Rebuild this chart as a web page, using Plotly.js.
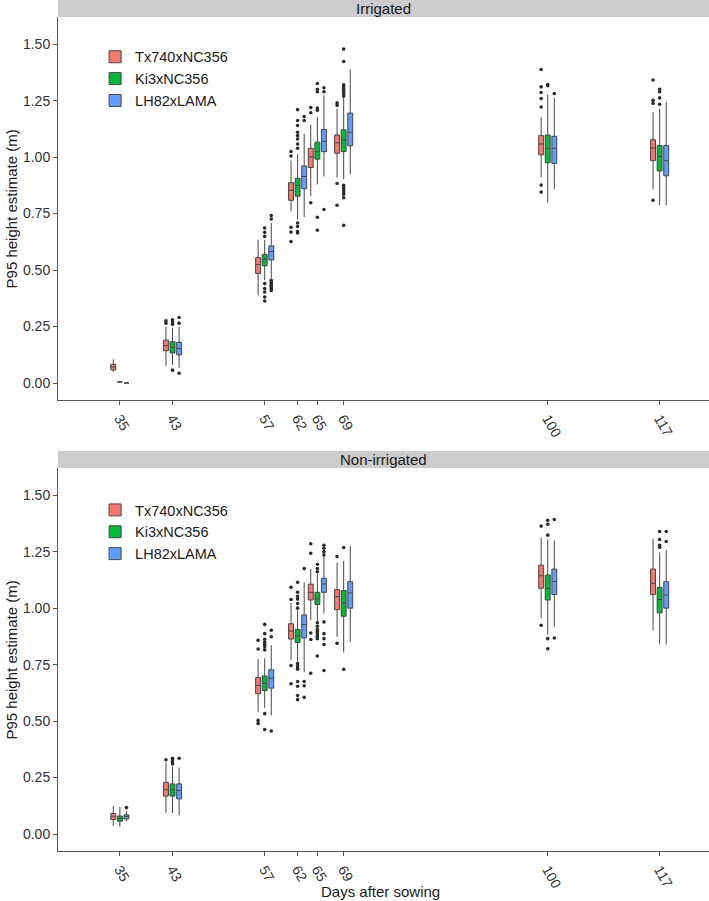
<!DOCTYPE html>
<html>
<head>
<meta charset="utf-8">
<script src="https://cdn.plot.ly/plotly-3.0.1.min.js"></script>
<style>html,body{margin:0;padding:0;background:#fff;}#chart{width:709px;height:901px;}</style>
</head>
<body>
<div id="chart"></div>
<script>
// ---------- DATA ----------
const days = [35, 43, 57, 62, 65, 69, 100, 117];
const dayLabels = ['35', '43', '57', '62', '65', '69', '100', '117'];
const genotypes = ['Tx740xNC356', 'Ki3xNC356', 'LH82xLAMA'];
const panels = ['Irrigated', 'Non-irrigated'];
const yTicks = [0, 0.25, 0.5, 0.75, 1.0, 1.25, 1.5];

// Irrigated - Tx740xNC356
const irrTxQ1  = [0.058, 0.143, 0.485, 0.809, 0.954, 1.017, 1.010, 0.984];
const irrTxMed = [0.071, 0.165, 0.524, 0.853, 1.001, 1.063, 1.058, 1.040];
const irrTxQ3  = [0.083, 0.190, 0.555, 0.887, 1.039, 1.098, 1.095, 1.077];
const irrTxLo  = [0.049, 0.076, 0.388, 0.760, 0.827, 0.909, 0.909, 0.857];
const irrTxHi  = [0.105, 0.250, 0.634, 0.985, 1.143, 1.214, 1.177, 1.199];
const irrTxOut = [[], [0.265, 0.275], [], [1.005, 1.025, 0.689, 0.668, 0.626], [1.196, 1.219, 0.798],
                  [1.229, 1.240, 0.883, 0.787], [1.222, 1.259, 1.286, 1.311, 1.388, 0.876, 0.845], [1.237, 1.251, 1.341, 0.809]];

// Irrigated - Ki3xNC356
const irrKiQ1  = [0.005, 0.133, 0.519, 0.827, 0.991, 1.024, 0.975, 0.939];
const irrKiMed = [0.005, 0.158, 0.548, 0.875, 1.024, 1.076, 1.039, 1.003];
const irrKiQ3  = [0.005, 0.183, 0.570, 0.906, 1.066, 1.121, 1.098, 1.051];
const irrKiLo  = [0.005, 0.080, 0.455, 0.723, 0.879, 0.902, 0.798, 0.787];
const irrKiHi  = [0.005, 0.245, 0.634, 1.013, 1.177, 1.266, 1.277, 1.214];
const irrKiOut = [[], [0.260, 0.270, 0.280, 0.057], [0.649, 0.667, 0.686, 0.440, 0.418, 0.403, 0.381, 0.363],
                  [1.039, 1.058, 1.080, 1.095, 1.110, 1.140, 1.162, 1.210, 0.708, 0.693, 0.671, 0.664],
                  [1.207, 1.217, 1.289, 1.300, 1.326, 0.734, 0.676],
                  [1.478, 1.423, 1.320, 1.310, 1.300, 1.290, 1.280, 1.270, 0.875, 0.865, 0.855, 0.845, 0.835, 0.820, 0.698],
                  [1.316, 1.321], [1.234, 1.262, 1.289, 1.300]];

// Irrigated - LH82xLAMA
const irrLhQ1  = [0.000, 0.125, 0.545, 0.860, 1.024, 1.050, 0.972, 0.917];
const irrLhMed = [0.000, 0.152, 0.582, 0.914, 1.070, 1.110, 1.039, 0.984];
const irrLhQ3  = [0.000, 0.180, 0.607, 0.961, 1.122, 1.195, 1.092, 1.051];
const irrLhLo  = [0.000, 0.068, 0.463, 0.734, 0.914, 0.924, 0.860, 0.787];
const irrLhHi  = [0.000, 0.250, 0.708, 1.103, 1.274, 1.388, 1.262, 1.244];
const irrLhOut = [[], [0.265, 0.290, 0.043], [0.726, 0.741, 0.455, 0.448, 0.440, 0.432, 0.425, 0.418, 0.410],
                  [1.162, 1.180], [1.289, 1.307, 0.768], [], [1.281], []];

// Non-irrigated - Tx740xNC356
const nonTxQ1  = [0.064, 0.168, 0.621, 0.863, 1.036, 0.993, 1.088, 1.060];
const nonTxMed = [0.079, 0.196, 0.658, 0.898, 1.070, 1.051, 1.143, 1.110];
const nonTxQ3  = [0.091, 0.229, 0.693, 0.931, 1.106, 1.082, 1.190, 1.173];
const nonTxLo  = [0.036, 0.093, 0.541, 0.770, 0.946, 0.873, 0.956, 0.901];
const nonTxHi  = [0.124, 0.317, 0.775, 1.023, 1.173, 1.202, 1.311, 1.307];
const nonTxOut = [[], [0.329], [0.819, 0.858, 0.503, 0.489], [1.038, 1.092, 0.746, 0.665],
                  [1.243, 1.285, 0.890, 0.861, 0.712], [1.228, 0.844], [1.363, 0.924], []];

// Non-irrigated - Ki3xNC356
const nonKiQ1  = [0.057, 0.168, 0.635, 0.848, 1.016, 0.964, 1.036, 0.979];
const nonKiMed = [0.069, 0.196, 0.668, 0.877, 1.041, 1.023, 1.088, 1.038];
const nonKiQ3  = [0.080, 0.222, 0.700, 0.906, 1.070, 1.078, 1.147, 1.092];
const nonKiLo  = [0.032, 0.093, 0.558, 0.763, 0.939, 0.803, 0.883, 0.839];
const nonKiHi  = [0.120, 0.298, 0.778, 0.990, 1.150, 1.209, 1.304, 1.246];
const nonKiOut = [[], [0.310, 0.320, 0.328, 0.335], [0.815, 0.830, 0.840, 0.850, 0.862, 0.887, 0.928, 0.533, 0.463],
                  [1.000, 1.020, 1.040, 1.052, 1.070, 1.114, 0.755, 0.745, 0.735, 0.730, 0.675, 0.654, 0.613, 0.595],
                  [1.161, 1.175, 1.194, 0.935, 0.920, 0.905, 0.895, 0.885, 0.875, 0.865, 0.788],
                  [1.268, 0.729], [1.323, 1.371, 1.389, 0.865, 0.820], [1.269, 1.278, 1.304, 1.339]];

// Non-irrigated - LH82xLAMA
const nonLhQ1  = [0.067, 0.156, 0.646, 0.868, 1.070, 1.000, 1.060, 1.000];
const nonLhMed = [0.078, 0.193, 0.690, 0.927, 1.107, 1.067, 1.118, 1.058];
const nonLhQ3  = [0.085, 0.222, 0.727, 0.970, 1.132, 1.117, 1.173, 1.117];
const nonLhLo  = [0.057, 0.083, 0.525, 0.716, 0.975, 0.851, 0.917, 0.839];
const nonLhHi  = [0.101, 0.295, 0.836, 1.114, 1.260, 1.275, 1.300, 1.257];
const nonLhOut = [[0.117], [0.335], [0.873, 0.902, 0.456], [1.175, 0.675, 0.656, 0.605],
                  [1.235, 1.250, 1.265, 1.278, 0.939, 0.887, 0.865, 0.839, 0.724], [], [1.392, 0.868], [1.295, 1.339]];

// ---------- BUILD ----------
const fills = ['#F8766D', '#00BA38', '#619CFF'];
const series = [
  [ // Irrigated
    {q1: irrTxQ1, med: irrTxMed, q3: irrTxQ3, lo: irrTxLo, hi: irrTxHi, out: irrTxOut},
    {q1: irrKiQ1, med: irrKiMed, q3: irrKiQ3, lo: irrKiLo, hi: irrKiHi, out: irrKiOut},
    {q1: irrLhQ1, med: irrLhMed, q3: irrLhQ3, lo: irrLhLo, hi: irrLhHi, out: irrLhOut}
  ],
  [ // Non-irrigated
    {q1: nonTxQ1, med: nonTxMed, q3: nonTxQ3, lo: nonTxLo, hi: nonTxHi, out: nonTxOut},
    {q1: nonKiQ1, med: nonKiMed, q3: nonKiQ3, lo: nonKiLo, hi: nonKiHi, out: nonKiOut},
    {q1: nonLhQ1, med: nonLhMed, q3: nonLhQ3, lo: nonLhLo, hi: nonLhHi, out: nonLhOut}
  ]
];

const traces = [];
series.forEach((panel, p) => {
  const xa = p === 0 ? 'x' : 'x2';
  const ya = p === 0 ? 'y' : 'y2';
  panel.forEach((s, g) => {
    traces.push({
      type: 'box', name: genotypes[g], x: days,
      q1: s.q1, median: s.med, q3: s.q3, lowerfence: s.lo, upperfence: s.hi,
      xaxis: xa, yaxis: ya, legend: p === 0 ? 'legend' : 'legend2',
      offsetgroup: 'g' + g, alignmentgroup: 'box' + p,
      fillcolor: fills[g], line: {color: '#474747', width: 1}, whiskerwidth: 0,
      boxpoints: false, showlegend: true, hoverinfo: 'skip'
    });
  });
  panel.forEach((s, g) => {
    const ox = [], oy = [];
    s.out.forEach((vals, i) => vals.forEach(v => { ox.push(days[i]); oy.push(v); }));
    traces.push({
      type: 'scatter', mode: 'markers', x: ox, y: oy, xaxis: xa, yaxis: ya,
      offsetgroup: 'g' + g, alignmentgroup: 'out' + p,
      marker: {size: 3.6, color: '#2b2b2b'}, showlegend: false, hoverinfo: 'skip'
    });
  });
});

const FONT = 'Liberation Sans, Arial, Helvetica, sans-serif';
function xAxis(anchor) {
  return {
    anchor: anchor, domain: [0, 1], range: [25.6, 124.5],
    tickmode: 'array', tickvals: days, ticktext: dayLabels, tickangle: 60,
    ticks: 'outside', ticklen: 4, tickcolor: '#555', tickwidth: 1,
    tickfont: {family: FONT, size: 14, color: '#333'},
    showline: true, linecolor: '#555', linewidth: 1,
    showgrid: false, zeroline: false, fixedrange: true
  };
}
function yAxis(anchor, domain) {
  return {
    anchor: anchor, domain: domain, range: [-0.075, 1.62],
    tickmode: 'array', tickvals: yTicks, tickformat: '.2f',
    ticks: 'outside', ticklen: 4, tickcolor: '#555', tickwidth: 1,
    tickfont: {family: FONT, size: 14, color: '#333'},
    showline: true, linecolor: '#555', linewidth: 1,
    showgrid: false, zeroline: false, fixedrange: true
  };
}

const legendBase = {
  xanchor: 'left', yanchor: 'top', bgcolor: 'rgba(0,0,0,0)',
  font: {family: FONT, size: 14.5, color: '#1a1a1a'}, tracegroupgap: 0
};

const layout = {
  width: 709, height: 901,
  margin: {l: 58, r: 0, t: 0, b: 50, pad: 0},
  paper_bgcolor: '#fff', plot_bgcolor: '#fff',
  font: {family: FONT, color: '#1a1a1a'},
  boxmode: 'group', boxgap: 0, boxgroupgap: 0.25,
  scattermode: 'group', scattergap: 0,
  xaxis: xAxis('y'), yaxis: yAxis('x', [0.530, 0.980]),
  xaxis2: xAxis('y2'), yaxis2: yAxis('x2', [0, 0.450]),
  legend: Object.assign({x: 0.057, y: 0.952}, legendBase),
  legend2: Object.assign({x: 0.057, y: 0.4195}, legendBase),
  shapes: [
    {type: 'rect', xref: 'paper', yref: 'paper', x0: 0, x1: 1, y0: 0.980, y1: 1.0, fillcolor: '#CCCCCC', line: {width: 0}, layer: 'below'},
    {type: 'rect', xref: 'paper', yref: 'paper', x0: 0, x1: 1, y0: 0.450, y1: 0.470, fillcolor: '#CCCCCC', line: {width: 0}, layer: 'below'}
  ],
  annotations: [
    {text: panels[0], xref: 'paper', yref: 'paper', x: 0.5, y: 0.990, showarrow: false, xanchor: 'center', yanchor: 'middle', font: {family: FONT, size: 15, color: '#1a1a1a'}},
    {text: panels[1], xref: 'paper', yref: 'paper', x: 0.5, y: 0.460, showarrow: false, xanchor: 'center', yanchor: 'middle', font: {family: FONT, size: 15, color: '#1a1a1a'}},
    {text: 'P95 height estimate (m)', xref: 'paper', yref: 'paper', x: -0.0707, y: 0.755, textangle: -90, showarrow: false, xanchor: 'center', yanchor: 'middle', font: {family: FONT, size: 15, color: '#1a1a1a'}},
    {text: 'P95 height estimate (m)', xref: 'paper', yref: 'paper', x: -0.0707, y: 0.225, textangle: -90, showarrow: false, xanchor: 'center', yanchor: 'middle', font: {family: FONT, size: 15, color: '#1a1a1a'}},
    {text: 'Days after sowing', xref: 'paper', yref: 'paper', x: 0.496, y: -0.048, showarrow: false, xanchor: 'center', yanchor: 'middle', font: {family: FONT, size: 15, color: '#1a1a1a'}}
  ]
};

Plotly.newPlot('chart', traces, layout, {displayModeBar: false, staticPlot: true});
</script>
</body>
</html>
